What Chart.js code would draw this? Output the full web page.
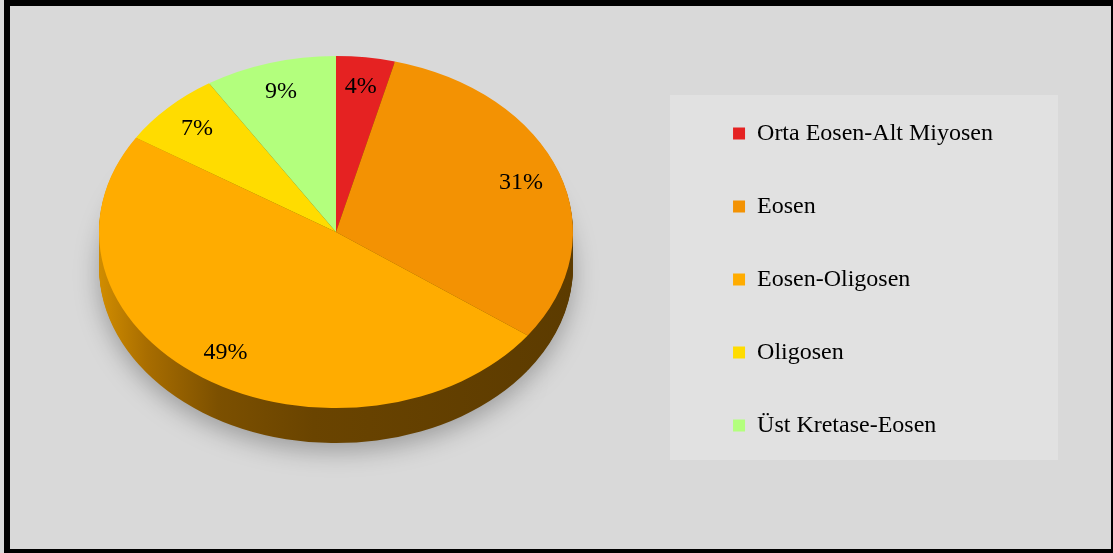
<!DOCTYPE html>
<html>
<head>
<meta charset="utf-8">
<script src="https://cdn.jsdelivr.net/npm/chart.js@4.4.1/dist/chart.umd.min.js"></script>
<style>
  html, body { margin: 0; padding: 0; background: #d9d9d9; }
  #wrap { position: relative; width: 1113px; height: 553px; }
  #frame {
    position: absolute; left: 4px; top: 0; width: 1109px; height: 553px;
    box-sizing: border-box; pointer-events: none;
    border-left: 6px solid #000; border-top: 6px solid #000;
    border-right: 2px solid #000; border-bottom: 4px solid #000;
  }
</style>
</head>
<body>
<div id="wrap">
  <canvas id="myChart" width="1113" height="553"></canvas>
  <div id="frame"></div>
</div>
<script>
// data
const labels = ['Orta Eosen-Alt Miyosen', 'Eosen', 'Eosen-Oligosen', 'Oligosen', 'Üst Kretase-Eosen'];
const shares = [4, 31, 49, 7, 9];
const sliceColors = ['#e52222', '#f39203', '#ffac00', '#ffdc00', '#b3ff7d'];

// pie placement (screen)
const PIE_X = 336;
const PIE_Y = 232;
const TILT = 0.743;   // ellipse squash
const DEPTH = 35;     // thickness of the side

const serif = '"Liberation Serif", "Times New Roman", serif';

function pieTransform(ctx, cx, cy, dy) {
    ctx.translate(PIE_X, PIE_Y + dy);
    ctx.scale(1, TILT);
    ctx.translate(-cx, -cy);
}

const pie3d = {
    id: 'pie3d',
    beforeDraw(chart) {
        // legend panel
        const ctx = chart.ctx;
        ctx.save();
        ctx.fillStyle = '#e1e1e1';
        ctx.fillRect(670, 95, 388, 365);
        ctx.restore();
    },
    beforeDatasetsDraw(chart) {
        const ctx = chart.ctx;
        const arcs = chart.getDatasetMeta(0).data;
        const cx = arcs[0].x, cy = arcs[0].y;

        // side of the pie, drawn as stacked copies of the slices
        const gx = 100 - PIE_X + cx;
        const side = ctx.createLinearGradient(gx, 0, gx + 473, 0);
        side.addColorStop(0, '#d08c00');
        side.addColorStop(0.1, '#a86d00');
        side.addColorStop(0.25, '#7c5000');
        side.addColorStop(0.45, '#6a4400');
        side.addColorStop(1, '#5c3b00');

        for (let d = DEPTH; d >= 1; d--) {
            ctx.save();
            if (d === DEPTH) {
                ctx.shadowColor = 'rgba(0,0,0,0.28)';
                ctx.shadowBlur = 24;
                ctx.shadowOffsetY = 8;
            }
            pieTransform(ctx, cx, cy, d);
            arcs.forEach(function(arc) {
                const fake = Object.create(arc);
                fake.options = Object.assign({}, arc.options, {backgroundColor: side, borderWidth: 0});
                arc.draw.call(fake, ctx);
            });
            ctx.restore();
        }

        // top face
        ctx.save();
        pieTransform(ctx, cx, cy, 0);
    },
    afterDatasetsDraw(chart) {
        const ctx = chart.ctx;
        ctx.restore();

        // percent labels
        const arcs = chart.getDatasetMeta(0).data;
        const total = shares.reduce((a, b) => a + b, 0);
        ctx.save();
        ctx.fillStyle = '#000';
        ctx.font = '24px ' + serif;
        ctx.textAlign = 'center';
        ctx.textBaseline = 'middle';
        arcs.forEach(function(arc, i) {
            const mid = (arc.startAngle + arc.endAngle) / 2;
            const r = arc.outerRadius * 0.83;
            const x = PIE_X + Math.cos(mid) * r;
            const y = PIE_Y + Math.sin(mid) * r * TILT;
            ctx.fillText(Math.round(shares[i] / total * 100) + '%', x, y);
        });
        ctx.restore();
    }
};

const chart = new Chart(document.getElementById('myChart'), {
    type: 'pie',
    data: {
        labels: labels,
        datasets: [{
            data: shares,
            backgroundColor: sliceColors,
            borderWidth: 0,
            radius: 237,
            clip: false
        }]
    },
    options: {
        responsive: false,
        animation: false,
        events: [],
        layout: {
            padding: { top: 6, bottom: 0, right: 110 }
        },
        plugins: {
            legend: {
                position: 'right',
                align: 'center',
                labels: {
                    boxWidth: 12,
                    boxHeight: 12,
                    padding: 49,
                    color: '#000',
                    font: { family: serif, size: 24 }
                }
            },
            tooltip: { enabled: false }
        }
    },
    plugins: [pie3d]
});
</script>
</body>
</html>
